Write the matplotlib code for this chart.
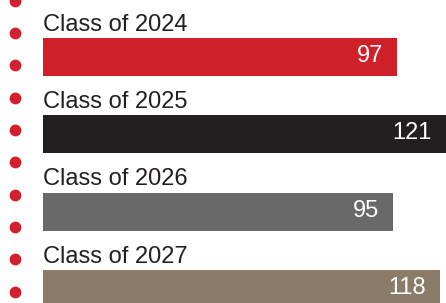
import numpy as np
import matplotlib
matplotlib.use("Agg")
import matplotlib.pyplot as plt
import matplotlib.transforms as mtransforms

# data
classes = ["Class of 2024", "Class of 2025", "Class of 2026", "Class of 2027"]
counts = [97, 121, 95, 118]
bar_colors = ["#cf2029", "#231f20", "#6a696a", "#8b7b69"]

plt.rcParams["font.family"] = ["Liberation Sans", "DejaVu Sans"]

W, H = 446, 303
fig = plt.figure(figsize=(W / 100, H / 100), dpi=100)

# bars start a bit "below zero" so the layout matches the infographic
base = -78
row_px = 77.3          # row pitch in pixels
bar_px = 38            # bar thickness in pixels
first_center = 57      # pixel centre of the first bar

ax = fig.add_axes([43 / W, 0, 1 - 43 / W, 1])
y = np.arange(len(counts))
ax.barh(y, np.array(counts) - base, left=base, height=bar_px / row_px,
        color=bar_colors)
ax.set_xlim(base, max(counts))
ax.set_ylim((H - first_center) / row_px, -first_center / row_px)
ax.axis("off")

trans = mtransforms.blended_transform_factory(ax.transAxes, ax.transData)
for i, (name, v) in enumerate(zip(classes, counts)):
    ax.text(0, i - 0.34, name, transform=trans, fontsize=17,
            color="#231f20", va="baseline", ha="left")
    ax.annotate(str(v), xy=(v, i), xytext=(-14, 1), textcoords="offset pixels",
                ha="right", va="center", fontsize=17, color="white")

# decorative column of red dots on the left
axd = fig.add_axes([0, 0, 43 / W, 1])
axd.set_xlim(0, 43)
axd.set_ylim(H, 0)
axd.axis("off")
dot_y = 0.8 + 32.3 * np.arange(10)
axd.scatter(np.full(dot_y.shape, 14.5), dot_y, s=72, color="#d3202f",
            linewidths=0)

fig.savefig("out.png", dpi=100)
